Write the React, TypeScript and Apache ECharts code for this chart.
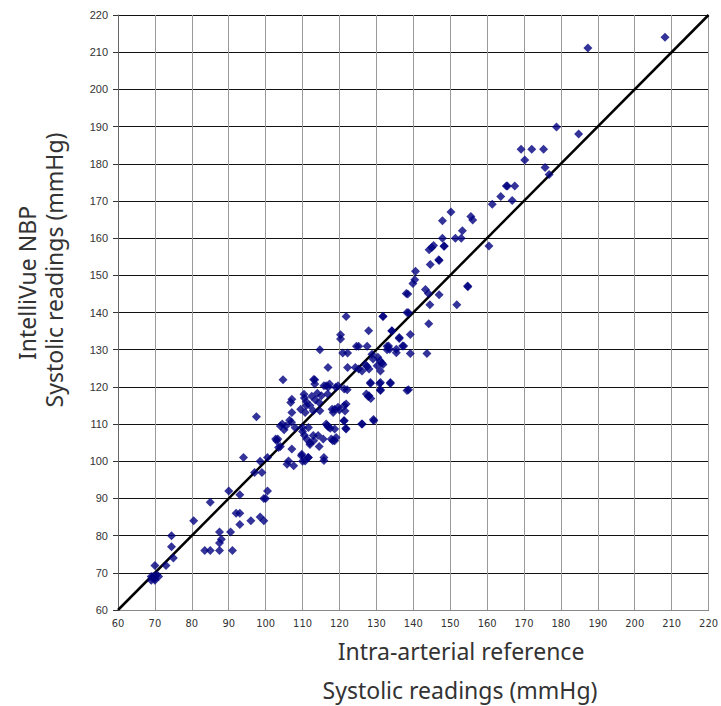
import React, { useEffect, useRef } from "react";
import * as echarts from "echarts";

const axisTicks = [60, 70, 80, 90, 100, 110, 120, 130, 140, 150, 160, 170, 180, 190, 200, 210, 220];

// Intra-arterial reference (x) vs IntelliVue NBP (y), systolic mmHg
const lowReadings: number[][] = [
  [69, 68], [69.5, 69], [70, 68.5], [70.5, 69.5], [69, 69], [70, 69], [71, 69], [70, 68],
  [70, 72], [73, 72], [75, 74], [74.5, 77], [74.5, 80], [80.5, 84], [85, 89], [90, 92], [93, 91],
  [83.5, 76], [85, 76], [87.5, 81], [88, 79], [87.5, 78], [87.5, 76], [90.5, 81], [91, 76],
  [92, 86], [93, 86], [93, 83], [96, 84], [98.5, 85], [99.5, 84], [99.5, 90], [100, 90], [100.5, 92],
  [97, 97], [99, 97], [98.5, 100], [100.5, 101], [94, 101], [97.5, 112],
];

const midReadings: number[][] = [
  [103, 105.5], [103.3, 106], [104, 104], [102.7, 106], [103.5, 103.7], [104.7, 121.9],
  [104.5, 110], [105, 108.5], [104, 109.5], [105.5, 109.5], [107, 110.5], [108, 109], [110, 108],
  [106.5, 111], [107.1, 113.1], [107.1, 116.7], [106.8, 115.8],
  [107.1, 103.3], [109.8, 101.9], [111.6, 101], [110.7, 100.1], [105.8, 99.2], [107.6, 98.8], [106.2, 100.1], [115.8, 101],
  [110.7, 113.1], [112.9, 113.6], [114.7, 113.6],
  [111, 116], [112.5, 117.5], [113.5, 116.5], [114.5, 115.8], [115.1, 117.6],
  [113.3, 121.9], [113.3, 120.8], [116.4, 120.3], [117.3, 120.8], [116.8, 118.1], [119.6, 120.3], [121.3, 119.4],
  [114.7, 130], [116.9, 125.2],
  [111.6, 109.1], [111.1, 106], [112.9, 106.9], [114.2, 106.9], [112, 105], [115.6, 106],
  [116.4, 110], [117, 109.2], [118.7, 108.7], [119.1, 106.4], [118.2, 105.5],
  [118.7, 114], [119.6, 114.5], [121.3, 115], [121.8, 115.4],
  [121.3, 110.9], [121.8, 108.7], [126.2, 110], [129.2, 111.2],
  [120.3, 132.9], [120.3, 134], [120.9, 129.1], [122.2, 129.1], [122.2, 125.2],
  [110.5, 117], [109.5, 114], [112, 115],
  [110.4, 118], [111, 115], [114, 118.3], [118, 114], [118.3, 113.1], [120, 113.8], [121.5, 113.5],
  [121.2, 110.9], [121.7, 108.9], [126, 110], [129.3, 110.9],
  [110, 109], [110.5, 107], [112, 104.5], [113, 105.5], [114.5, 104], [116.7, 109.6], [117.5, 108.9], [117.8, 106], [118.7, 105.5],
  [109.7, 101.5], [110, 100], [111.5, 101], [115.8, 100.2],
  [115.8, 120.3], [117, 120], [119, 119.9], [122.1, 119.2], [113, 122],
];

const upperReadings: number[][] = [
  [124.6, 130.9], [125.2, 130.9], [127.5, 130.9], [121.8, 138.9], [131.8, 138.9], [127.9, 135.1], [134.2, 135.1],
  [136.2, 133.3], [137.4, 131], [138.1, 145.1], [138.3, 140], [138.3, 119],
  [132.9, 130.9], [133.6, 130.1], [135.4, 129.2], [130.4, 128], [131, 127], [131.8, 126], [128.8, 128.8], [129.1, 127.5],
  [130.2, 125.7], [131.5, 126.4],
  [124.3, 125.2], [125.2, 124.8], [126.1, 124.3], [127, 126], [127.5, 125.5], [128, 124.8],
  [128.4, 120.9], [130.9, 120.9], [133.8, 120.9],
  [127.3, 118.1], [127.8, 117.4], [131.1, 119],
  [150.2, 167], [147.9, 164.7], [155.6, 165.8], [156.1, 164.9], [147.9, 160], [151.4, 160], [153, 160], [153.3, 162],
  [148.3, 157.8], [144.3, 156.9], [145, 157.5], [145.5, 158], [147, 154], [144.6, 152.9], [140.6, 151.1], [140.4, 148.8],
  [139.9, 147.8], [138.5, 145], [143.3, 146.2], [144.1, 145.1], [147, 144.8], [154.8, 146.9], [151.8, 142.1], [144.5, 142.1],
  [138.7, 139.9], [144.2, 137], [131.8, 139], [134.2, 135], [139.2, 134.1], [136.2, 133], [137.1, 131], [135.4, 130.1],
  [132.9, 130], [133.3, 131], [139.2, 129], [143.7, 129], [138.7, 119.2], [133.8, 121.2], [131.1, 121.2], [128.4, 121.2],
  [131.1, 119.2], [128, 117.6], [128.5, 116.9], [131.1, 124.3],
];

const highReadings: number[][] = [
  [208.2, 214], [187.3, 211.1], [178.8, 189.9], [184.8, 188], [169.2, 183.9], [172.1, 183.9], [175.3, 183.9],
  [170.2, 181], [175.7, 179], [176.8, 177.1], [165.2, 174], [165.5, 174], [167.5, 174], [163.7, 171.2], [166.8, 170.1],
  [161.4, 169.1], [160.5, 157.9], [154.7, 147.1], [148.4, 157.9], [146.9, 154.2],
];

const identityLine: number[][] = [[60, 60], [220, 220]];

const xTitle1 = "Intra-arterial reference";
const xTitle2 = "Systolic readings (mmHg)";
const yTitle1 = "IntelliVue NBP";
const yTitle2 = "Systolic readings (mmHg)";

export default function App() {
  const ref = useRef<HTMLDivElement>(null);
  useEffect(() => {
    if (!ref.current) return;
    const chart = echarts.init(ref.current, undefined, { renderer: "svg", width: 721, height: 706 });
    const points = [...lowReadings, ...midReadings, ...upperReadings, ...highReadings];
    const titleFont = { fontFamily: "'Noto Sans', sans-serif", fontSize: 23, fontWeight: 400, fill: "#333" };
    chart.setOption({
      animation: false,
      backgroundColor: "#fff",
      grid: { left: 118, right: 7, top: 15, bottom: 96, containLabel: false },
      xAxis: {
        type: "value",
        min: axisTicks[0],
        max: axisTicks[axisTicks.length - 1],
        interval: 10,
        axisLine: { show: true, onZero: false, lineStyle: { color: "#888", width: 1 } },
        axisTick: { show: false },
        axisLabel: {
          margin: 8,
          color: "#333",
          fontSize: 11,
          fontFamily: "'Liberation Sans Narrow', 'DejaVu Sans Condensed', sans-serif",
        },
        splitLine: { show: true, lineStyle: { color: "#999", width: 1 } },
      },
      yAxis: {
        type: "value",
        min: axisTicks[0],
        max: axisTicks[axisTicks.length - 1],
        interval: 10,
        axisLine: { show: true, onZero: false, lineStyle: { color: "#666", width: 1 } },
        axisTick: { show: true, length: 5, lineStyle: { color: "#333" } },
        axisLabel: {
          margin: 10,
          color: "#333",
          fontSize: 11,
          fontFamily: "'Liberation Sans', Arial, sans-serif",
        },
        splitLine: { show: true, lineStyle: { color: "#111", width: 1 } },
      },
      series: [
        {
          type: "line",
          data: identityLine,
          symbol: "none",
          lineStyle: { color: "#000", width: 2.5 },
          z: 3,
        },
        {
          type: "scatter",
          data: points,
          symbol: "diamond",
          symbolSize: 9,
          itemStyle: { color: "#000080" },
          z: 4,
        },
      ],
      graphic: [
        { type: "text", x: 461, y: 651, style: { ...titleFont, text: xTitle1, textAlign: "center", textVerticalAlign: "middle" } },
        { type: "text", x: 460, y: 690, style: { ...titleFont, text: xTitle2, textAlign: "center", textVerticalAlign: "middle" } },
        { type: "text", x: 27, y: 283, rotation: Math.PI / 2, style: { ...titleFont, text: yTitle1, textAlign: "center", textVerticalAlign: "middle" } },
        { type: "text", x: 54, y: 270, rotation: Math.PI / 2, style: { ...titleFont, text: yTitle2, textAlign: "center", textVerticalAlign: "middle" } },
      ],
    });
    return () => chart.dispose();
  }, []);
  return <div ref={ref} style={{ width: 721, height: 706, position: "absolute", left: 0, top: 0 }} />;
}
